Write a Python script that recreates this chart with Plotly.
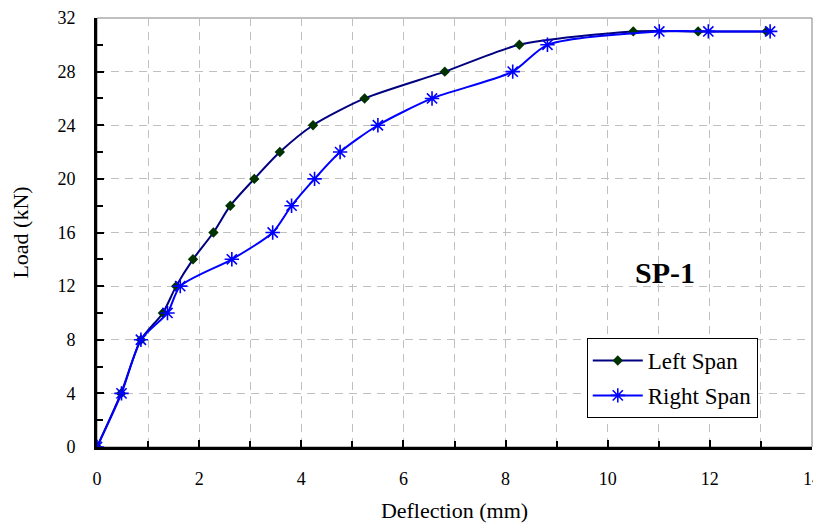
import plotly.graph_objects as go

left_x = [0, 0.47, 0.86, 1.29, 1.55, 1.88, 2.28, 2.61, 3.08, 3.58, 4.23, 5.24, 6.81, 8.27, 10.5, 11.77, 13.11]
left_y = [0, 4, 8, 10, 12, 14, 16, 18, 20, 22, 24, 26, 28, 30, 31, 31, 31]

right_x = [0, 0.48, 0.86, 1.38, 1.63, 2.64, 3.44, 3.81, 4.26, 4.76, 5.5, 6.56, 8.14, 8.82, 11.01, 11.97, 13.18]
right_y = [0, 4, 8, 10, 12, 14, 16, 18, 20, 22, 24, 26, 28, 30, 31, 31, 31]

x_ticks = [0, 2, 4, 6, 8, 10, 12, 14]
y_ticks = [0, 4, 8, 12, 16, 20, 24, 28, 32]

FONT = "Liberation Serif"

fig = go.Figure()
fig.add_trace(go.Scatter(
    x=left_x, y=left_y, name="Left Span", mode="lines+markers", legendgroup="a",
    line=dict(color="#000080", width=2, shape="spline", smoothing=0.7),
    marker=dict(symbol="diamond", size=8, color="#003300"),
))
fig.add_trace(go.Scatter(
    x=right_x, y=right_y, name="Right Span", mode="lines+markers", legendgroup="b",
    line=dict(color="#0000FF", width=2, shape="spline", smoothing=0.7),
    marker=dict(symbol="asterisk-open", size=12, color="#0000FF", line=dict(color="#0000FF", width=1.6)),
))

fig.update_layout(
    width=813, height=515,
    margin=dict(l=89, r=9, t=10, b=76),
    paper_bgcolor="white", plot_bgcolor="white",
    font=dict(family=FONT, size=18, color="black"),
    showlegend=True,
    legend=dict(
        x=0.685, y=0.254, xanchor="left", yanchor="top",
        bgcolor="white", bordercolor="black", borderwidth=1,
        font=dict(family=FONT, size=23, color="black"),
        itemwidth=50, tracegroupgap=2,
    ),
    shapes=[dict(type="rect", xref="paper", yref="paper", x0=0, y0=0, x1=1, y1=1,
                 line=dict(color="#808080", width=1), layer="below")],
    annotations=[dict(text="<b>SP-1</b>", x=11.12, y=12.98, xref="x", yref="y",
                      showarrow=False, font=dict(family=FONT, size=30, color="black"))],
)

fig.update_xaxes(
    range=[0, 14], tickvals=x_ticks, ticktext=[str(v) for v in x_ticks],
    automargin=False, ticklabeloverflow="allow",
    showline=True, linecolor="black", linewidth=3,
    ticks="inside", ticklen=7, tickwidth=2, tickcolor="black",
    showgrid=True, gridcolor="#C0C0C0", griddash="8px,6px", gridwidth=1,
    minor=dict(dtick=1, ticks="inside", ticklen=6, tickwidth=2, tickcolor="black",
               showgrid=True, gridcolor="#C0C0C0", griddash="8px,6px", gridwidth=1),
    zeroline=False,
    title=dict(text="Deflection (mm)", font=dict(family=FONT, size=22), standoff=20),
    tickfont=dict(family=FONT, size=18),
    ticklabelstandoff=13,
)
fig.update_yaxes(
    range=[0, 32], tickvals=y_ticks, ticktext=[str(v) for v in y_ticks],
    automargin=False, ticklabeloverflow="allow",
    showline=True, linecolor="black", linewidth=3,
    ticks="inside", ticklen=7, tickwidth=2, tickcolor="black",
    showgrid=True, gridcolor="#C0C0C0", griddash="8px,6px", gridwidth=1,
    minor=dict(dtick=2, ticks="inside", ticklen=6, tickwidth=2, tickcolor="black", showgrid=False),
    zeroline=False,
    title=dict(text="Load (kN)", font=dict(family=FONT, size=22), standoff=25),
    tickfont=dict(family=FONT, size=18),
    ticklabelstandoff=15,
)

fig.write_html("out.html")
